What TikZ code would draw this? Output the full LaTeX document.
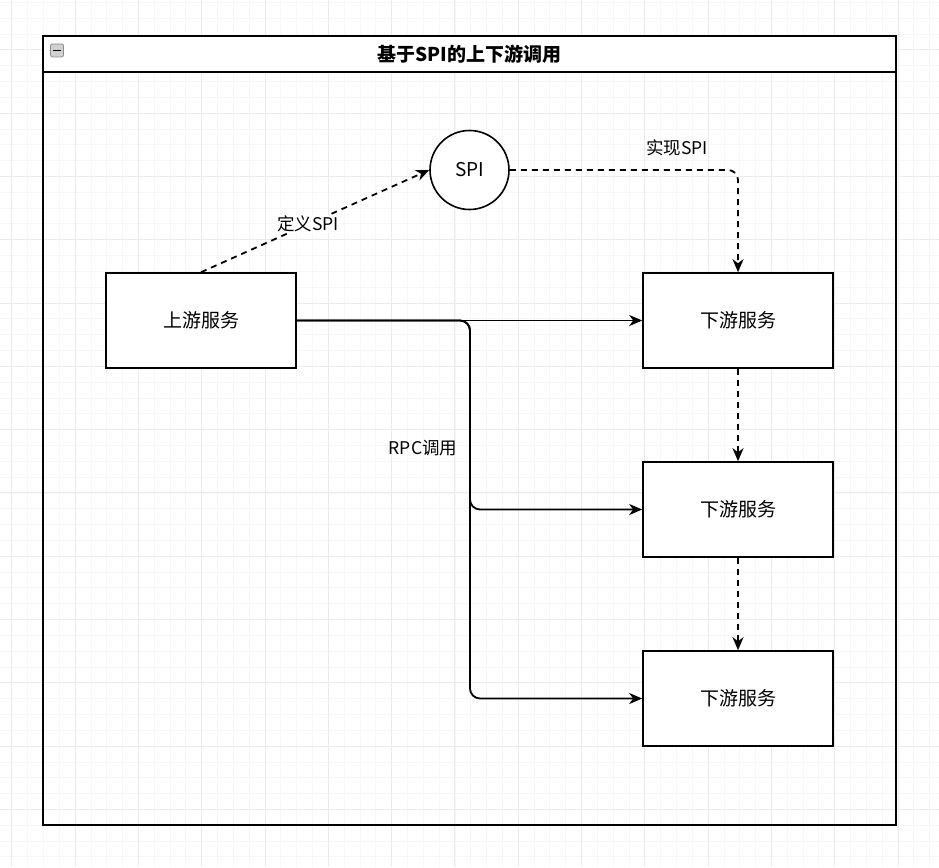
\documentclass[tikz,border=0pt]{standalone}
\usepackage{fontspec}
\setmainfont{Noto Sans CJK SC}
\usetikzlibrary{arrows.meta}
\begin{document}
\begin{tikzpicture}[x=1pt,y=-1pt,
  gridminor/.style={draw=black!3, line width=0.6pt},
  gridmajor/.style={draw=black!8, line width=0.8pt},
  box/.style={draw=black, fill=white, line width=1.6pt, minimum width=190pt, minimum height=95pt, inner sep=0pt, font=\fontsize{19}{22}\selectfont},
  spinode/.style={circle, draw=black, fill=white, line width=1.6pt, minimum size=79pt, inner sep=0pt, font=\fontsize{19}{22}\selectfont},
  lbl/.style={font=\fontsize{17.5}{20}\selectfont, inner sep=1pt},
  tip/.style={-{Stealth[length=13pt,width=11pt,inset=4pt]}},
  dashedge/.style={tip, draw=black, line width=1.8pt, dash pattern=on 6pt off 5pt},
  solidedge/.style={tip, draw=black, line width=1.8pt},
]
% background and grid
\fill[white] (0,0) rectangle (939,867);
\useasboundingbox (0,0) rectangle (939,867);
\foreach \i in {-4,...,59} {
  \draw[gridminor] ({11.7+15.825*\i},0) -- ++(0,867);
  \draw[gridminor] (0,{49.7+15.825*\i}) -- ++(939,0);
}
\foreach \i in {-1,...,14} {
  \draw[gridmajor] ({11.7+63.3*\i},0) -- ++(0,867);
  \draw[gridmajor] (0,{49.7+63.3*\i}) -- ++(939,0);
}
% container
\node[draw=black, line width=1.8pt, minimum width=853pt, minimum height=789pt, inner sep=0pt] (container) at (469.5,430.5) {};
\node[draw=black, fill=white, line width=1.8pt, minimum width=853pt, minimum height=36pt, inner sep=0pt, font=\fontsize{19}{22}\selectfont\bfseries] (title) at (469.5,54) {基于SPI的上下游调用};
\node[draw=black!45, fill=black!18, rounded corners=2pt, minimum size=13pt, inner sep=0pt, line width=0.8pt] (icon) at (57,50.5) {};
\draw[line width=1.6pt] ([xshift=-4pt]icon.center) -- ([xshift=4pt]icon.center);
% nodes
\node[spinode] (spi) at (469.5,170) {SPI};
\node[box] (up) at (201,320.5) {上游服务};
\node[box] (d1) at (738,320.5) {下游服务};
\node[box] (d2) at (738,509.5) {下游服务};
\node[box] (d3) at (738,698.5) {下游服务};
\coordinate (bend) at (470,320.5);
% dashed SPI edges
\draw[dashedge] (up.north) -- node[pos=0.47, fill=white, lbl] {定义SPI} (spi.west);
\draw[dashedge, rounded corners=10pt] (spi.east) -| (d1.north);
\node[lbl] (implabel) at (677,148) {实现SPI};
\draw[dashedge] (d1.south) -- (d2.north);
\draw[dashedge] (d2.south) -- (d3.north);
% RPC edges
\draw[solidedge] (up.east) -- (d1.west);
\draw[solidedge, rounded corners=10pt] (up.east) -- (bend) |- (d2.west);
\draw[solidedge, rounded corners=10pt] (up.east) -- (bend) |- (d3.west);
\node[lbl] (rpclabel) at (423,448) {RPC调用};
\end{tikzpicture}
\end{document}
